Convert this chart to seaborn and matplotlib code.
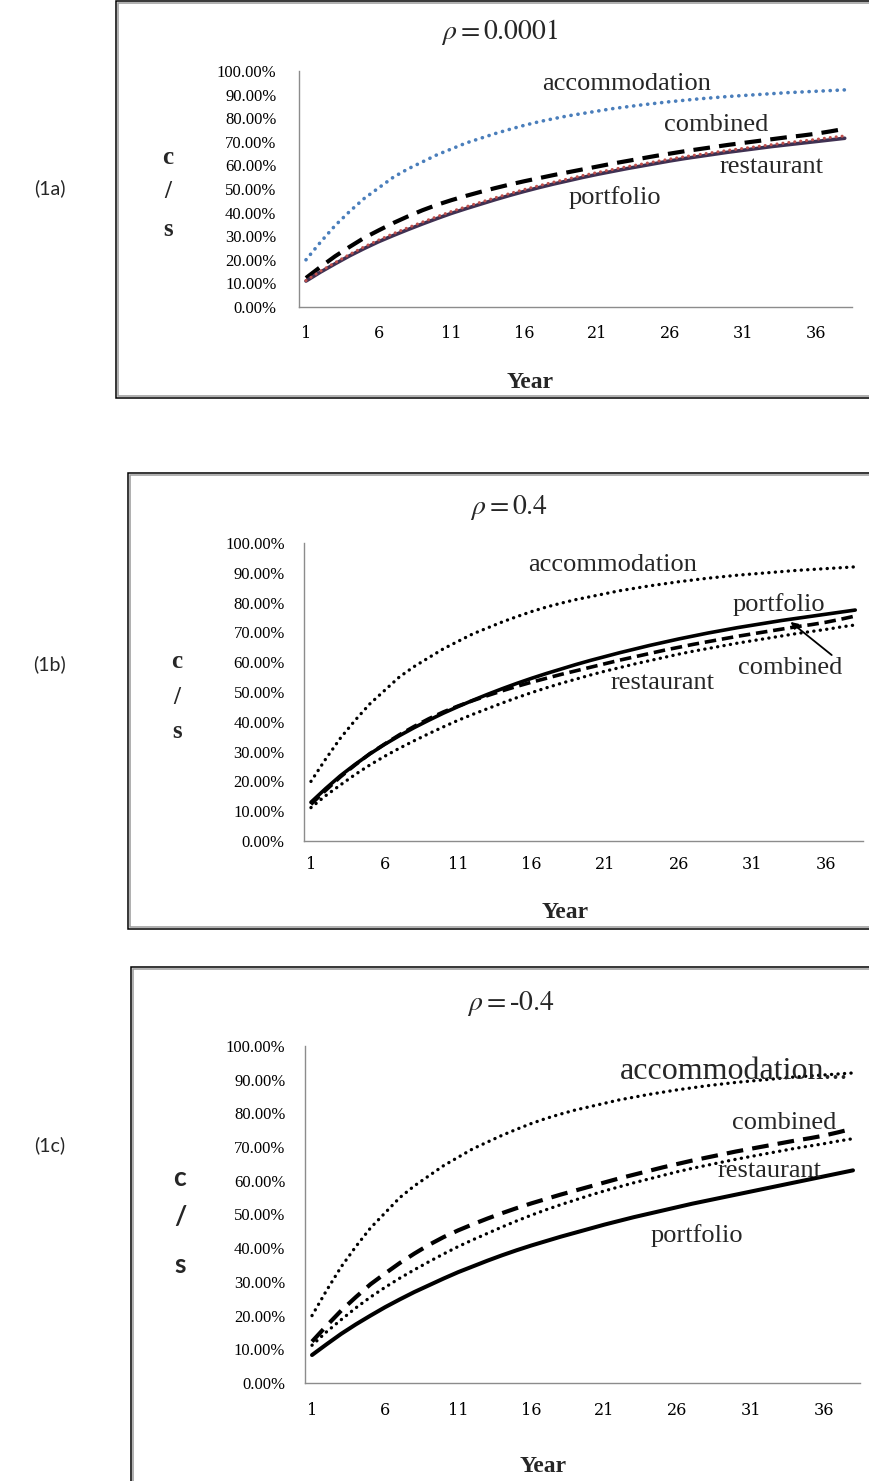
import matplotlib
matplotlib.use("Agg")
import matplotlib.pyplot as plt
import seaborn as sns
from matplotlib.lines import Line2D

# ---- data (c/s in %, by year) ----
years = list(range(1, 39))

accommodation = [20.0, 27.5, 34.5, 40.5, 46.0, 50.5, 55.0, 58.5, 61.5, 64.5,
                 67.0, 69.5, 71.5, 73.5, 75.3, 77.0, 78.5, 79.8, 81.0, 82.0,
                 83.0, 84.0, 84.8, 85.6, 86.3, 87.0, 87.6, 88.2, 88.7, 89.2,
                 89.6, 90.0, 90.4, 90.8, 91.1, 91.4, 91.7, 92.0]
restaurant = [11.2, 15.2, 18.8, 22.3, 25.5, 28.4, 31.1, 33.6, 36.0, 38.3,
              40.5, 42.5, 44.4, 46.3, 48.1, 49.8, 51.4, 52.9, 54.3, 55.7,
              57.0, 58.2, 59.4, 60.5, 61.6, 62.7, 63.7, 64.6, 65.5, 66.4,
              67.2, 68.0, 68.8, 69.6, 70.3, 71.0, 71.8, 72.5]
combined = [12.3, 17.0, 21.5, 25.5, 29.3, 32.5, 35.6, 38.4, 41.0, 43.3,
            45.3, 47.1, 48.8, 50.4, 51.9, 53.3, 54.6, 55.9, 57.1, 58.3,
            59.5, 60.7, 61.8, 62.9, 64.0, 65.0, 66.0, 66.9, 67.8, 68.7,
            69.5, 70.3, 71.1, 71.9, 72.6, 73.4, 74.4, 75.5]
portfolio_rho_0001 = [11.0, 14.8, 18.3, 21.7, 24.8, 27.7, 30.3, 32.8, 35.2, 37.5,
                      39.7, 41.7, 43.6, 45.5, 47.3, 49.0, 50.6, 52.1, 53.5, 54.9,
                      56.2, 57.4, 58.6, 59.7, 60.8, 61.9, 62.9, 63.8, 64.7, 65.6,
                      66.4, 67.2, 68.0, 68.7, 69.4, 70.1, 70.8, 71.5]
portfolio_rho_p04 = [13.0, 17.6, 21.9, 25.7, 29.2, 32.4, 35.3, 38.0, 40.5, 42.9,
                     45.1, 47.2, 49.2, 51.1, 52.9, 54.6, 56.2, 57.7, 59.2, 60.6,
                     61.9, 63.2, 64.4, 65.6, 66.7, 67.8, 68.8, 69.8, 70.7, 71.6,
                     72.4, 73.2, 74.0, 74.7, 75.4, 76.1, 76.8, 77.5]
portfolio_rho_m04 = [8.3, 11.5, 14.6, 17.4, 20.0, 22.5, 24.8, 27.0, 29.0, 31.0,
                     32.9, 34.6, 36.3, 37.9, 39.4, 40.8, 42.1, 43.4, 44.6, 45.8,
                     47.0, 48.1, 49.2, 50.2, 51.2, 52.2, 53.2, 54.1, 55.0, 55.9,
                     56.8, 57.7, 58.6, 59.5, 60.4, 61.3, 62.2, 63.1]

y_ticks = [0.0, 0.1, 0.2, 0.3, 0.4, 0.5, 0.6, 0.7, 0.8, 0.9, 1.0]
y_tick_labels = ["0.00%", "10.00%", "20.00%", "30.00%", "40.00%", "50.00%",
                 "60.00%", "70.00%", "80.00%", "90.00%", "100.00%"]
x_ticks = [1, 6, 11, 16, 21, 26, 31, 36]

panel_tags = ["(1a)", "(1b)", "(1c)"]
panel_titles = [r"$\rho = 0.0001$", r"$\rho = 0.4$", r"$\rho = $-$0.4$"]

sns.set_theme(style="white")
plt.rcParams["mathtext.fontset"] = "stix"
plt.rcParams["font.family"] = ["Liberation Serif", "DejaVu Serif"]

W, H = 869, 1481
fig = plt.figure(figsize=(W / 100, H / 100), dpi=100)

SERIF = "Liberation Serif"
SANS = "Lato"


def fx(x):
    return x / W


def fy(y):
    return 1 - y / H


def frame(left, top, right, bottom):
    for off, col in [(0, "black"), (1.6, "#9a9a9a")]:
        xs = [right, left + off, left + off, right]
        ys = [top + off, top + off, bottom - off, bottom - off]
        fig.add_artist(Line2D([fx(v) for v in xs], [fy(v) for v in ys],
                              color=col, lw=1.1, transform=fig.transFigure,
                              solid_joinstyle="miter"))


def make_axes(left, right, top, bottom):
    ax = fig.add_axes([fx(left), fy(bottom), fx(right - left), (bottom - top) / H])
    ax.set_xlim(0.5, 38.5)
    ax.set_ylim(0, 1)
    for s in ["top", "right"]:
        ax.spines[s].set_visible(False)
    for s in ["left", "bottom"]:
        ax.spines[s].set_color("#8c8c8c")
        ax.spines[s].set_linewidth(1.0)
    ax.set_yticks(y_ticks)
    ax.set_yticklabels(y_tick_labels, fontfamily=SERIF, fontsize=12)
    ax.set_xticks(x_ticks)
    ax.set_xticklabels([str(t) for t in x_ticks], fontfamily="DejaVu Serif", fontsize=11.5)
    ax.tick_params(axis="both", length=0, colors="black")
    ax.set_facecolor("white")
    ax.grid(False)
    return ax


def pct(vals):
    return [v / 100 for v in vals]


dot = (0, (0.05, 1.9))

# ---------------- panel frames ----------------
frame(116, 1, 880, 398)
frame(128, 473, 880, 929)
frame(131, 967, 880, 1495)

# ---------------- panel (1a) ----------------
ax1 = make_axes(298.7, 852, 71, 307)
ax1.tick_params(axis="y", pad=16)
ax1.tick_params(axis="x", pad=13)
sns.lineplot(x=years, y=pct(accommodation), ax=ax1, color="#4a7ebb", lw=2.6,
             linestyle=dot, dash_capstyle="round")
sns.lineplot(x=years, y=pct(combined), ax=ax1, color="black", lw=3.0,
             linestyle=(0, (4, 2.2)))
sns.lineplot(x=years, y=pct(portfolio_rho_0001), ax=ax1, color="#403152", lw=2.6)
sns.lineplot(x=years, y=pct(restaurant), ax=ax1, color="#c0504d", lw=2.2,
             linestyle=dot, dash_capstyle="round")
lab = dict(fontfamily=SERIF, fontsize=19, ha="center", va="center")
ax1.text(23.0, 0.945, "accommodation", **lab)
ax1.text(29.2, 0.771, "combined", **lab)
ax1.text(33.0, 0.593, "restaurant", **lab)
ax1.text(22.2, 0.466, "portfolio", **lab)

# ---------------- panel (1b) ----------------
ax2 = make_axes(303.6, 862.6, 543, 841)
ax2.tick_params(axis="y", pad=13.5)
ax2.tick_params(axis="x", pad=11)
sns.lineplot(x=years, y=pct(accommodation), ax=ax2, color="black", lw=2.4,
             linestyle=dot, dash_capstyle="round")
sns.lineplot(x=years, y=pct(restaurant), ax=ax2, color="black", lw=2.4,
             linestyle=dot, dash_capstyle="round")
sns.lineplot(x=years, y=pct(combined), ax=ax2, color="black", lw=2.6,
             linestyle=(0, (3.2, 1.6)))
sns.lineplot(x=years, y=pct(portfolio_rho_p04), ax=ax2, color="black", lw=2.6)
ax2.text(21.5, 0.926, "accommodation", **lab)
ax2.text(32.8, 0.792, "portfolio", **lab)
ax2.text(33.6, 0.581, "combined", **lab)
ax2.text(24.9, 0.530, "restaurant", **lab)
ax2.annotate("", xy=(33.6, 0.735), xytext=(36.4, 0.624),
             arrowprops=dict(arrowstyle="-|>", lw=1.3, color="black",
                             mutation_scale=10, shrinkA=0, shrinkB=0))

# ---------------- panel (1c) ----------------
ax3 = make_axes(304.7, 860.3, 1046, 1383)
ax3.tick_params(axis="y", pad=14)
ax3.tick_params(axis="x", pad=14)
sns.lineplot(x=years, y=pct(accommodation), ax=ax3, color="black", lw=2.4,
             linestyle=dot, dash_capstyle="round")
sns.lineplot(x=years, y=pct(restaurant), ax=ax3, color="black", lw=2.4,
             linestyle=dot, dash_capstyle="round")
sns.lineplot(x=years, y=pct(combined), ax=ax3, color="black", lw=3.0,
             linestyle=(0, (4, 2.2)))
sns.lineplot(x=years, y=pct(portfolio_rho_m04), ax=ax3, color="black", lw=2.9)
ax3.text(29.9, 0.923, "accommodation...", fontfamily=SERIF, fontsize=23,
         ha="center", va="center")
ax3.text(33.3, 0.772, "combined", **lab)
ax3.text(32.3, 0.629, "restaurant", **lab)
ax3.text(27.3, 0.439, "portfolio", **lab)

# ---------------- titles, axis labels, tags ----------------
for (cx, cy), title in zip([(500, 32), (509, 507), (511, 1003)], panel_titles):
    fig.text(fx(cx), fy(cy), title, fontsize=20, ha="center", va="center")

for cx, cy in [(530, 383), (565, 912), (543, 1467)]:
    fig.text(fx(cx), fy(cy), "Year", fontfamily=SERIF, fontweight="bold",
             fontsize=17, ha="center", va="center")

for cx, ys in [(168, (157, 192, 230)), (177, (662, 697, 732))]:
    for ch, cy in zip(["c", "/", "s"], ys):
        fig.text(fx(cx), fy(cy), ch, fontfamily=SERIF, fontweight="bold",
                 fontsize=18, ha="center", va="center")
for ch, cy in zip(["c", "/", "s"], (1178, 1217, 1265)):
    fig.text(fx(180), fy(cy), ch, fontfamily=SANS, fontweight="bold",
             fontsize=19, ha="center", va="center")

for tag, cy in zip(panel_tags, [188, 664, 1145]):
    fig.text(fx(50), fy(cy), tag, fontfamily=SANS, fontsize=14,
             ha="center", va="center")

fig.savefig("out.png", dpi=100, facecolor="white")
